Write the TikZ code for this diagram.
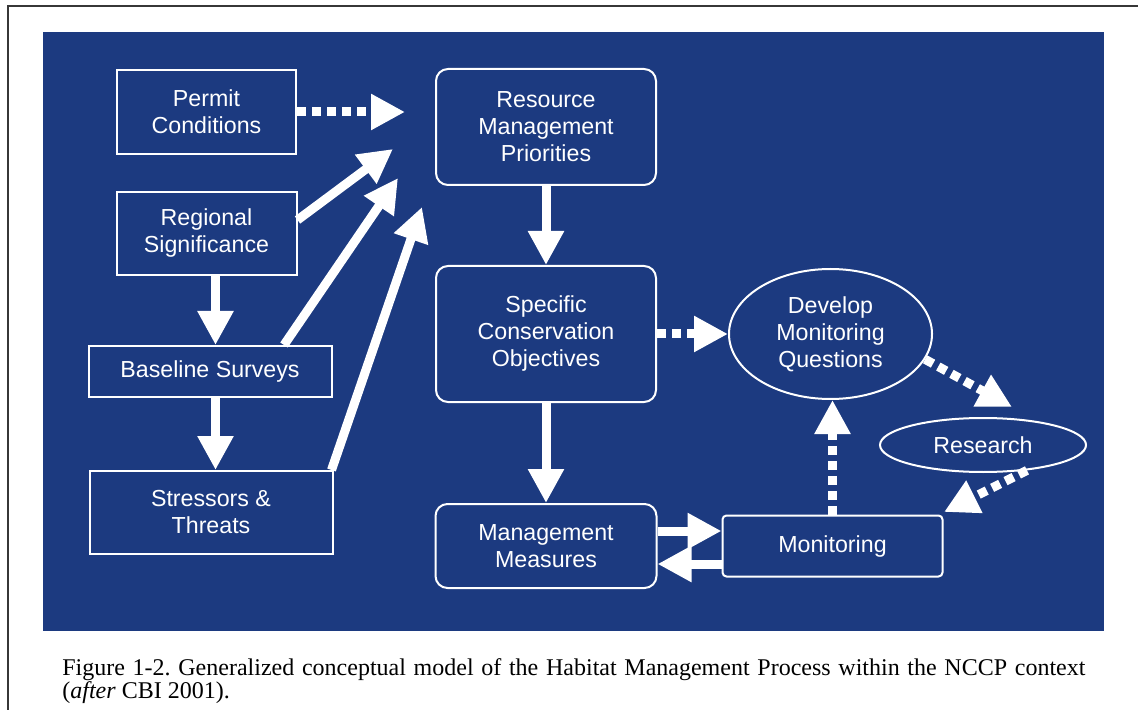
\documentclass[tikz,border=0pt]{standalone}
\usepackage{fontspec}
\setmainfont{Liberation Sans}
\newfontfamily\captionserif{Liberation Serif}
\usetikzlibrary{positioning,shapes.geometric,arrows.meta}

\definecolor{panelblue}{RGB}{28,58,128}
\definecolor{framegray}{RGB}{55,55,55}
\newcommand{\boxfont}{\fontsize{11.6pt}{13.5pt}\selectfont}
\newcommand{\capfont}{\captionserif\frenchspacing\fontsize{12pt}{13pt}\selectfont}

\tikzset{
  box/.style={rectangle,draw=white,line width=1pt,text=white,align=center,inner sep=0pt,font=\boxfont},
  rbox/.style={box,rounded corners=6pt},
  oval/.style={ellipse,draw=white,line width=1pt,text=white,align=center,inner sep=0pt,font=\boxfont},
  bigarrow/.style={draw=white,line width=4.5pt,-{Triangle[length=17pt,width=17pt]}},
  dotarrow/.style={bigarrow,dash pattern=on 4.5pt off 3pt}
}

\begin{document}
\begin{tikzpicture}[x=0.5pt,y=-0.5pt]
			\useasboundingbox (0,0) rectangle (1138,710);
			\fill[white] (0,0) rectangle (1138,710);
			
			% frame and blue panel
			\draw[framegray,line width=1pt] (8,710) -- (8,6) -- (1138,6);
			\fill[panelblue] (43,32) rectangle (1104,631);
			
			% left column
			\node[box,minimum width=89.5pt,minimum height=42pt] (permit) at (206.5,112) {Permit\\Conditions};
			\node[box,minimum width=90pt,minimum height=41.5pt,below=18pt of permit] (regional) {Regional\\Significance};
			\node[box,minimum width=121.5pt,minimum height=25.5pt,below=34.5pt of regional,xshift=1.75pt] (baseline) {Baseline Surveys};
			\node[box,minimum width=121.5pt,minimum height=41.5pt,below=36pt of baseline,xshift=0.5pt] (stressors) {Stressors \&\\Threats};
			
			% middle column
			\node[rbox,minimum width=110pt,minimum height=58pt] (resource) at (546,127) {Resource\\Management\\Priorities};
			\node[rbox,minimum width=110pt,minimum height=68pt,below=39.5pt of resource] (specific) {Specific\\Conservation\\Objectives};
			\node[rbox,minimum width=110.5pt,minimum height=42pt,below=50pt of specific] (measures) {Management\\Measures};
			
			% monitoring loop
			\node[oval,minimum width=101.5pt,minimum height=65pt,right=35.5pt of specific] (develop) {Develop\\Monitoring\\Questions};
			\node[oval,minimum width=103pt,minimum height=27pt] (research) at (983,445) {Research};
			\node[box,rounded corners=2pt,minimum width=110pt,minimum height=30.5pt,right=32pt of measures] (monitoring) {Monitoring};
			
			% free ends of the arrows
			\coordinate (tipA) at (405,112);
			\coordinate (tipB) at (393,149);
			\coordinate (tipC) at (398,178);
			\coordinate (tipD) at (422,207);
			\coordinate (tipE) at (1012,407);
			\coordinate (tipF) at (944,512);
			
			% arrows into the priorities
			\draw[dotarrow] (permit) -- (tipA);
			\draw[bigarrow] ([yshift=6.75pt]regional.east) -- (tipB);
			\draw[bigarrow] ([xshift=37pt]baseline.north) -- (tipC);
			\draw[bigarrow] ([xshift=-1pt]stressors.north east) -- (tipD);
			
			% arrows down the left column
			\draw[bigarrow] ([xshift=4.5pt]regional.south) -- ([xshift=4.5pt]regional.south |- baseline.north);
			\draw[bigarrow] ([xshift=2.75pt]baseline.south) -- ([xshift=2.75pt]baseline.south |- stressors.north);
			
			% arrows down the middle column
			\draw[bigarrow] (resource) -- (specific);
			\draw[bigarrow] (specific) -- (measures);
			
			% dotted arrows of the loop
			\draw[dotarrow] (specific) -- (develop);
			\draw[dotarrow] (develop.-15) -- (tipE);
			\draw[dotarrow] (research.-30) -- (tipF);
			\draw[dotarrow] (monitoring.north) -- (monitoring.north |- develop.south);
			
			% measures and monitoring
			\draw[bigarrow] ([yshift=7.5pt]measures.east) -- ([yshift=7.5pt]measures.east -| monitoring.west);
			\draw[bigarrow] ([yshift=-9pt]monitoring.west) -- ([yshift=-9pt]monitoring.west -| measures.east);
			
			% caption
			\node[anchor=base west,inner sep=0pt,font=\capfont] (cap1) at (62,675) {\makebox[511.5pt][s]{Figure 1-2. Generalized conceptual model of the Habitat Management Process within the NCCP context}};
			\node[anchor=base west,inner sep=0pt,font=\capfont] (cap2) at (62,698) {(\textit{after} CBI 2001).};
			
		\end{tikzpicture}
\end{document}
